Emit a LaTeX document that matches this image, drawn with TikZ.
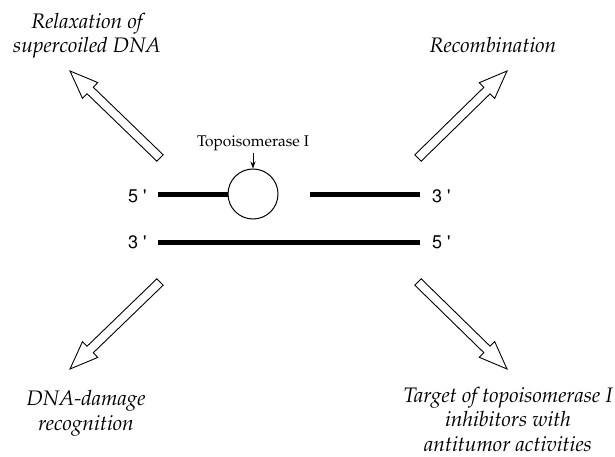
\documentclass[tikz,border=0pt]{standalone}
\usepackage[T1]{fontenc}
\usetikzlibrary{calc,arrows.meta}
\newcommand{\palfont}{\fontfamily{ppl}\selectfont}
\newcommand{\helfont}{\fontfamily{phv}\selectfont}
\tikzset{
  lbl/.style={font=\palfont\itshape\fontsize{21}{24.5}\selectfont, align=center, inner sep=0pt},
  endlbl/.style={font=\helfont\fontsize{18}{20}\selectfont, inner sep=0pt, anchor=base west},
  strand/.style={line width=5pt},
  blockarrow/.style={draw=black, line width=0.9pt, fill=white, line join=miter},
}
\newcommand{\blockarr}[3]{% #1 name, #2 tail, #3 tip
  \coordinate (#1hb) at ($(#3)!28pt!(#2)$);
  \draw[blockarrow] ($(#2)!4.5pt!-90:(#3)$) -- ($(#1hb)!4.5pt!-90:(#3)$)
    -- ($(#1hb)!11pt!-90:(#3)$) -- (#3) -- ($(#1hb)!11pt!90:(#3)$)
    -- ($(#1hb)!4.5pt!90:(#3)$) -- ($(#2)!4.5pt!90:(#3)$) -- cycle;
}
\begin{document}
\begin{tikzpicture}[x=1pt,y=-1pt]
\useasboundingbox (0,0) rectangle (615,457);
% labels
\node[lbl, anchor=base] (relax) at (87,53) {Relaxation of\\supercoiled DNA};
\node[lbl, anchor=base] (recomb) at (493,53) {Recombination};
\node[lbl, anchor=base] (damage) at (86,430) {DNA-damage\\recognition};
\node[lbl, anchor=base] (target) at (508,451) {Target of topoisomerase I\\inhibitors with\\antitumor activities};
% DNA strands
\node[circle, draw, line width=1pt, minimum size=50pt, inner sep=0pt] (topo) at (253,194) {};
\coordinate (tl) at (158,194);
\coordinate (tr1) at (310,194);
\coordinate (tr2) at (420,194);
\coordinate (bl) at (158,242);
\coordinate (br) at (420,242);
\draw[strand] (tl) -- (topo.west);
\draw[strand] (tr1) -- (tr2);
\draw[strand] (bl) -- (br);
\node[endlbl] (e1) at (128,202) {5 \textquotesingle};
\node[endlbl] (e2) at (432,202) {3 \textquotesingle};
\node[endlbl] (e3) at (128,248) {3 \textquotesingle};
\node[endlbl] (e4) at (432,248) {5 \textquotesingle};
% topoisomerase label
\node[font=\palfont\fontsize{15.5}{18}\selectfont, inner sep=0pt, anchor=base] (tlab) at (253,147) {Topoisomerase I};
\draw[line width=0.8pt, -{Stealth[length=7pt,width=5pt]}] (tlab.south) ++(0,-1pt) -- (topo.north);
% block arrows
\coordinate (a1t) at (160,158); \coordinate (a1h) at (70,71);
\coordinate (a2t) at (418,158); \coordinate (a2h) at (507,71);
\coordinate (a3t) at (160,282); \coordinate (a3h) at (70,369);
\coordinate (a4t) at (418,282); \coordinate (a4h) at (507,369);
\blockarr{a1}{a1t}{a1h}
\blockarr{a2}{a2t}{a2h}
\blockarr{a3}{a3t}{a3h}
\blockarr{a4}{a4t}{a4h}
\end{tikzpicture}
\end{document}
